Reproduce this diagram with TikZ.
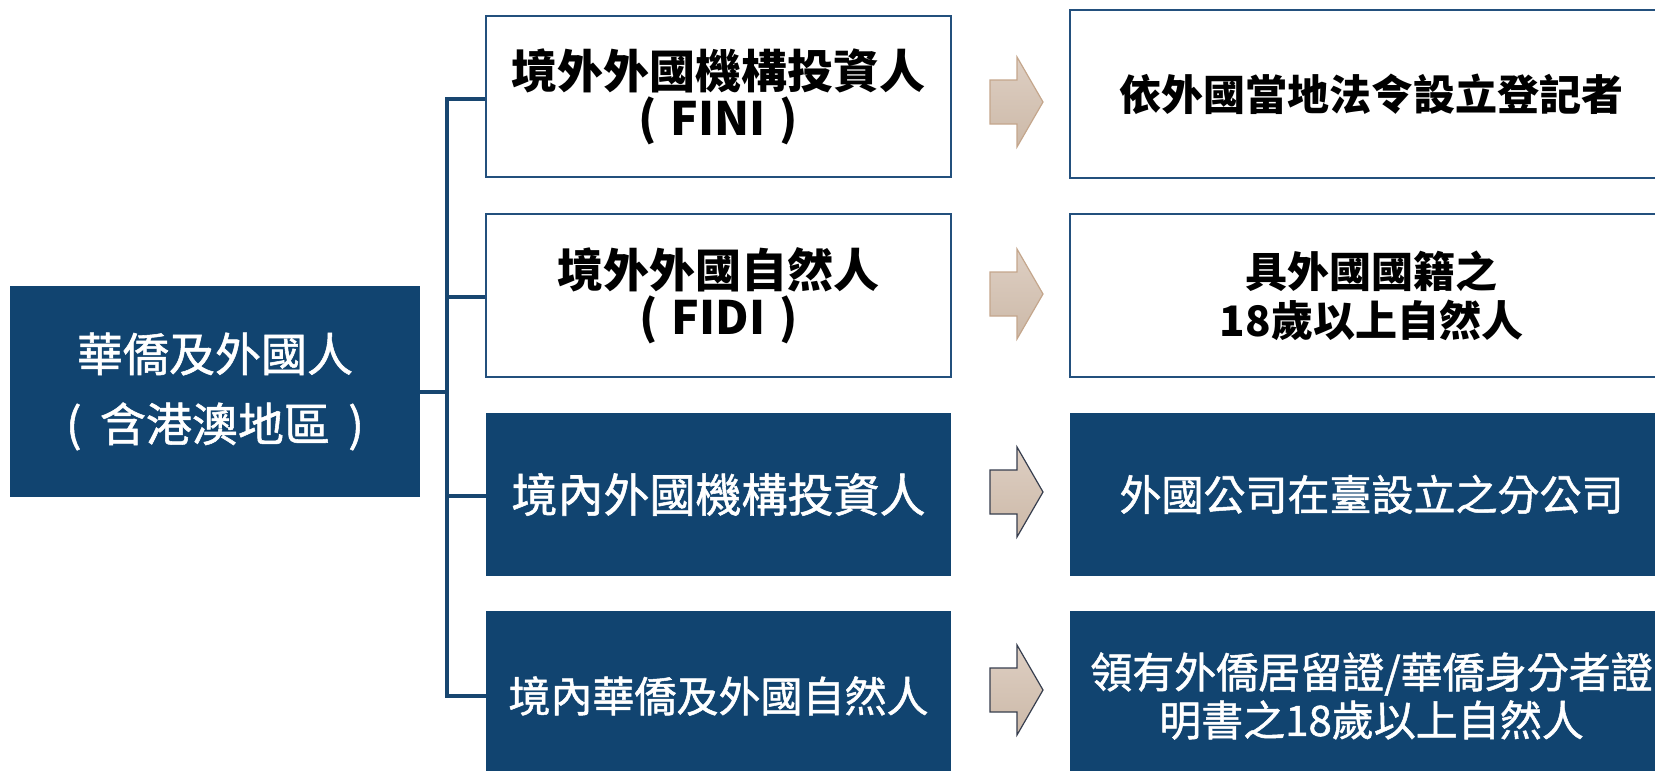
\documentclass[tikz,border=0pt]{standalone}
\usepackage{fontspec}
\setmainfont{Noto Sans CJK TC}
\newfontfamily\medfont{Noto Sans CJK TC}[FakeBold=1.2]
\usetikzlibrary{calc}
\definecolor{navy}{RGB}{17,68,112}
\definecolor{boxline}{RGB}{35,80,125}
\definecolor{connc}{RGB}{24,70,112}
\definecolor{arrfillA}{RGB}{222,207,195}
\definecolor{arrfillB}{RGB}{204,185,168}
\definecolor{arrlineA}{RGB}{196,166,140}
\definecolor{arrlineB}{RGB}{55,62,78}
\newcommand{\psp}{\hspace{0.4em}}
\begin{document}
\begin{tikzpicture}[x=1pt,y=-1pt,
  darkbox/.style={fill=navy, text=white, inner sep=0pt, align=center,
    font=\medfont\fontsize{46}{47}\selectfont},
  lightbox/.style={fill=white, draw=boxline, line width=2pt, text=black,
    inner sep=0pt, align=center, font=\bfseries\fontsize{46}{47}\selectfont},
  midw/.style={minimum width=465pt},
  rightw/.style={minimum width=603pt},
  smalltext/.style={font=\bfseries\fontsize{42}{49}\selectfont},
  smallwhite/.style={font=\medfont\fontsize{42}{48}\selectfont},
  conn/.style={draw=connc, line width=4pt},
  arrowA/.style={top color=arrfillA, bottom color=arrfillB, draw=arrlineA, line width=1.2pt},
  arrowB/.style={top color=arrfillA, bottom color=arrfillB, draw=arrlineB, line width=1.2pt},
  bigarrow/.pic={\path[pic actions] (-26.5,-22) -- (0.5,-22) -- (0.5,-45) -- (26.5,0)
      -- (0.5,45) -- (0.5,22) -- (-26.5,22) -- cycle;}
]
\useasboundingbox (0,0) rectangle (1655,771);
\clip (0,0) rectangle (1655,771);

% root
\node[darkbox, minimum width=410pt, minimum height=211pt,
  font=\medfont\fontsize{46}{70}\selectfont] (root) at (215,391.5)
  {華僑及外國人\\(\psp 含港澳地區\psp )};

% middle column
\node[lightbox, midw, minimum height=161pt] (m1) at (718.5,96.5)
  {境外外國機構投資人\\(\hspace{0.3em}FINI\hspace{0.3em})};
\node[lightbox, midw, minimum height=163pt] (m2) at (718.5,295.5)
  {境外外國自然人\\(\hspace{0.3em}FIDI\hspace{0.3em})};
\node[darkbox, midw, minimum height=163pt] (m3) at (718.5,494.5)
  {境內外國機構投資人};
\node[darkbox, midw, minimum height=170pt, smallwhite] (m4) at (718.5,696)
  {境內華僑及外國自然人};

% right column
\node[lightbox, rightw, minimum height=168pt, smalltext] (r1) at (1371.5,94)
  {依外國當地法令設立登記者};
\node[lightbox, rightw, minimum height=163pt, smalltext] (r2) at (1371.5,295.5)
  {具外國國籍之\\18歲以上自然人};
\node[darkbox, rightw, minimum height=163pt, smallwhite] (r3) at (1371.5,494.5)
  {外國公司在臺設立之分公司};
\node[darkbox, rightw, minimum height=170pt, smallwhite] (r4) at (1371.5,696)
  {領有外僑居留證/華僑身分者證\\明書之18歲以上自然人};

% arrows
\pic[arrowA] at (1016.5,102) {bigarrow};
\pic[arrowA] at (1016.5,294) {bigarrow};
\pic[arrowB] at (1016.5,492) {bigarrow};
\pic[arrowB] at (1016.5,690) {bigarrow};

% connectors
\coordinate (bus) at (447,0);
\draw[conn] ([yshift=-2.5pt]m1.west) -- ([yshift=-2.5pt]m1.west -| bus)
  -- (m4.west -| bus) -- (m4.west);
\draw[conn] ([yshift=-1.5pt]m2.west) -- ([yshift=-1.5pt]m2.west -| bus);
\draw[conn] ([yshift=-1.5pt]m3.west) -- ([yshift=-1.5pt]m3.west -| bus);
\draw[conn] (root.east) -- (root.east -| bus);
\end{tikzpicture}
\end{document}
